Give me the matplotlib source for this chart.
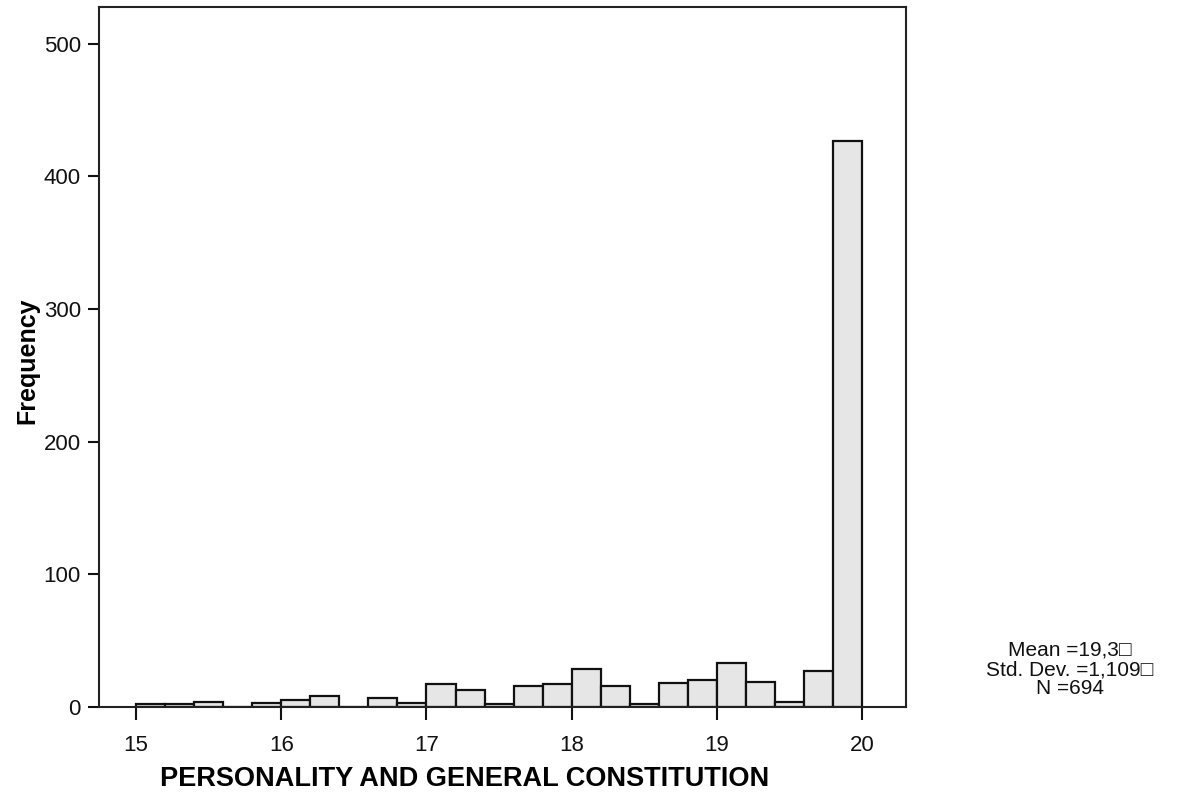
import matplotlib
matplotlib.use("Agg")
import matplotlib.pyplot as plt

# Daten: Klassengrenzen (links) und Haeufigkeiten
bin_left = [15.0, 15.2, 15.4, 15.6, 15.8, 16.0, 16.2, 16.4, 16.6, 16.8,
            17.0, 17.2, 17.4, 17.6, 17.8, 18.0, 18.2, 18.4, 18.6, 18.8,
            19.0, 19.2, 19.4, 19.6, 19.8]
counts = [2, 2, 4, 0, 3, 5, 8, 0, 7, 3,
          17, 13, 2, 16, 17, 29, 16, 2, 18, 20,
          33, 19, 4, 27, 427]
bin_width = 0.2
x_ticks = [15, 16, 17, 18, 19, 20]
y_ticks = [0, 100, 200, 300, 400, 500]
stats_lines = ["Mean =19,3\u25a1", "Std. Dev. =1,109\u25a1", "N =694"]

plt.rcParams['font.family'] = ['Liberation Sans', 'DejaVu Sans']

fig = plt.figure(figsize=(11.79, 8), dpi=100)
ax = fig.add_axes([0.084, 0.11625, 0.6845, 0.875])

ax.bar(bin_left, counts, width=bin_width, align='edge',
       color='#e6e6e6', edgecolor='#111111', linewidth=1.6, zorder=2)

ax.set_xlim(14.745, 20.303)
ax.set_ylim(0, 527.8)
ax.set_xticks(x_ticks)
ax.set_yticks(y_ticks)
ax.tick_params(axis='both', direction='out', width=1.5,
               labelsize=16, colors='#111111')
ax.tick_params(axis='x', length=9, pad=11)
ax.tick_params(axis='y', length=8, pad=5)
for s in ax.spines.values():
    s.set_linewidth(1.5)
    s.set_color('#222222')

ax.set_xlabel("PERSONALITY AND GENERAL CONSTITUTION", fontsize=19.5,
              fontweight='bold')
ax.xaxis.set_label_coords(0.4535, -0.103)
ax.xaxis.label.set_va('center')
ax.set_ylabel("Frequency", fontsize=18, fontweight='bold')
ax.yaxis.set_label_coords(-0.089, 0.495)
ax.yaxis.label.set_va('center')

# Statistik-Block rechts unten
for i, line in enumerate(stats_lines):
    fig.text(1070 / 1179, 1 - (650 + 19.5 * i) / 800, line, ha='center',
             va='center', fontsize=15, color='#111111')

plt.savefig("out.png", dpi=100)
plt.close()
